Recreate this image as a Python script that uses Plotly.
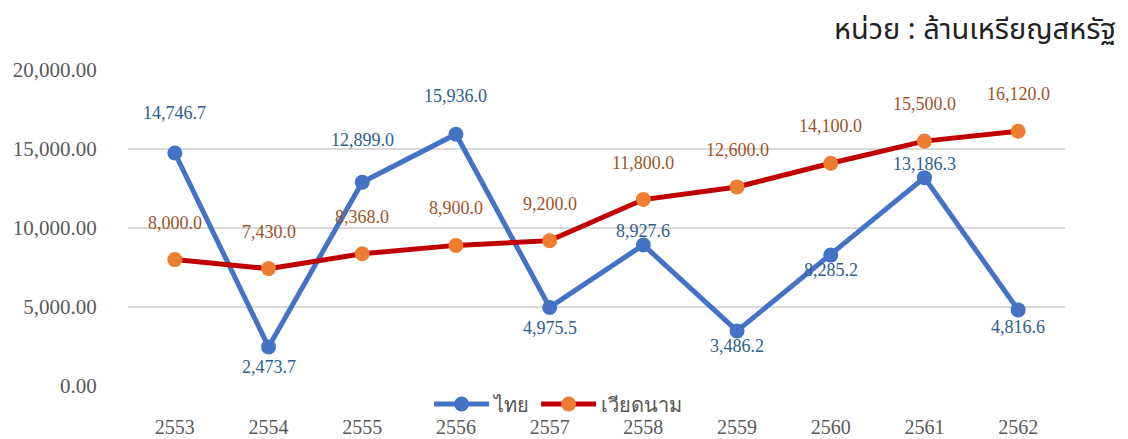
import plotly.graph_objects as go

years = ["2553", "2554", "2555", "2556", "2557", "2558", "2559", "2560", "2561", "2562"]
thai = [14746.7, 2473.7, 12899.0, 15936.0, 4975.5, 8927.6, 3486.2, 8285.2, 13186.3, 4816.6]
vietnam = [8000.0, 7430.0, 8368.0, 8900.0, 9200.0, 11800.0, 12600.0, 14100.0, 15500.0, 16120.0]
y_ticks = [0, 5000, 10000, 15000, 20000]
y_tick_labels = ["0.00", "5,000.00", "10,000.00", "15,000.00", "20,000.00"]

# label vertical offsets (px) for the Thai series labels
thai_label_shift = [40, -20, 42, 38, -21, 14, -15, -15, 14, -17]
viet_label_shift = 37

SERIF = "Liberation Serif, Times New Roman, serif"

fig = go.Figure()
fig.add_trace(go.Scatter(
    x=years, y=thai, name="ไทย", mode="lines+markers",
    line=dict(color="#4472C4", width=5),
    marker=dict(color="#4472C4", size=15),
))
fig.add_trace(go.Scatter(
    x=years, y=vietnam, name="เวียดนาม", mode="lines+markers",
    line=dict(color="#C00000", width=5),
    marker=dict(color="#ED7D31", size=15),
))

for i, (v, s) in enumerate(zip(thai, thai_label_shift)):
    fig.add_annotation(x=i, y=v, text=f"{v:,.1f}", showarrow=False, yshift=s,
                       font=dict(family=SERIF, size=18, color="#2E5E8E"))
for i, v in enumerate(vietnam):
    fig.add_annotation(x=i, y=v, text=f"{v:,.1f}", showarrow=False, yshift=viet_label_shift,
                       font=dict(family=SERIF, size=18, color="#9E5427"))

fig.add_annotation(text="หน่วย : ล้านเหรียญสหรัฐ", xref="paper", yref="paper",
                   x=1.057, y=1.0, xanchor="right", yanchor="middle", yshift=40, showarrow=False,
                   font=dict(family="Noto Sans Thai, Noto Sans, DejaVu Sans, sans-serif", size=29, color="#222222"))

fig.update_layout(
    width=1120, height=431,
    margin=dict(l=120, r=63, t=62, b=53, autoexpand=False),
    plot_bgcolor="white", paper_bgcolor="white",
    showlegend=True,
    legend=dict(orientation="h", x=0.459, xanchor="center", y=-0.057, yanchor="middle",
                font=dict(family=SERIF, size=20, color="#555555"),
                bgcolor="rgba(0,0,0,0)", itemwidth=55),
    xaxis=dict(type="category", showgrid=False, showline=False, zeroline=False,
               ticks="outside", ticklen=23, tickcolor="rgba(0,0,0,0)",
               tickfont=dict(family=SERIF, size=20, color="#595959"),
               range=[-0.5, 9.5], automargin=False),
    yaxis=dict(range=[0, 20000], tickvals=y_ticks, ticktext=y_tick_labels,
               showgrid=True, gridcolor="#D9D9D9", gridwidth=2, zeroline=False,
               showline=False, ticks="outside", ticklen=26, tickcolor="rgba(0,0,0,0)",
               tickfont=dict(family=SERIF, size=21, color="#595959"), automargin=False),
)

fig.write_html("out.html")
